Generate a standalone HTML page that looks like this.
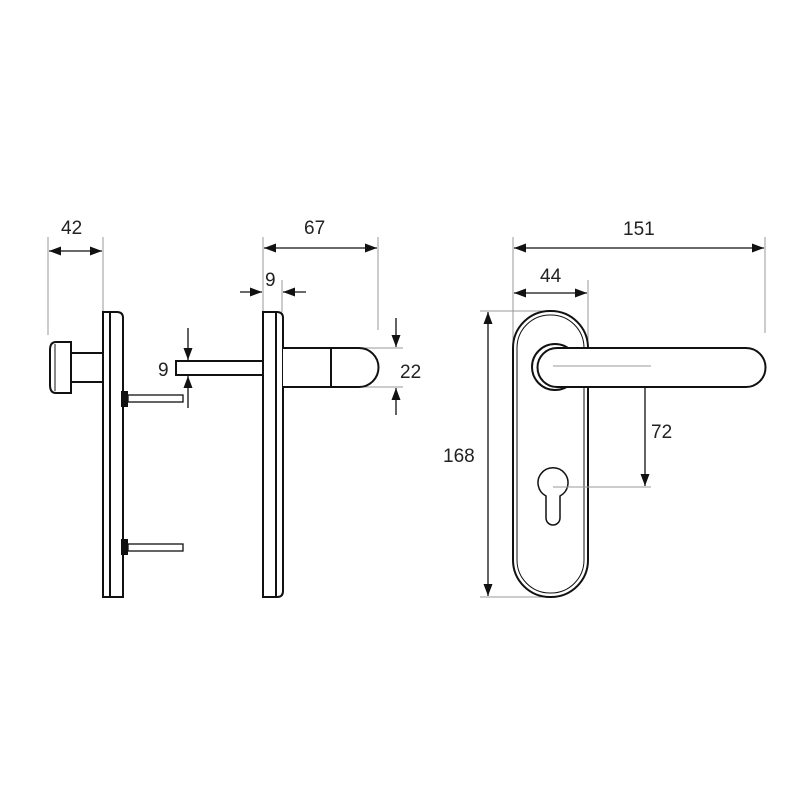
<!DOCTYPE html>
<html><head><style>html,body{margin:0;padding:0;background:#fff}svg{display:block}</style></head><body>
<svg width="800" height="800" viewBox="0 0 800 800" xmlns="http://www.w3.org/2000/svg" font-family="Liberation Sans, sans-serif">
<defs>
<marker id="a" viewBox="0 0 12 10" refX="12" refY="5" markerWidth="13" markerHeight="10" markerUnits="userSpaceOnUse" orient="auto-start-reverse"><path d="M0,0.5 L12,5 L0,9.5 Z" fill="#111"/></marker>
</defs>
<g fill="none" stroke="#999" stroke-width="1">
<line x1="48" y1="237" x2="48" y2="335"/>
<line x1="103" y1="237" x2="103" y2="312"/>
<line x1="263" y1="237" x2="263" y2="312"/>
<line x1="378" y1="237" x2="378" y2="330"/>
<line x1="282" y1="280" x2="282" y2="312"/>
<line x1="176" y1="361" x2="196" y2="361"/>
<line x1="176" y1="375" x2="196" y2="375"/>
<line x1="340" y1="348" x2="403" y2="348"/>
<line x1="340" y1="387" x2="403" y2="387"/>
<line x1="513" y1="237" x2="513" y2="345"/>
<line x1="588" y1="280" x2="588" y2="345"/>
<line x1="765" y1="237" x2="765" y2="333"/>
<line x1="480" y1="311" x2="545" y2="311"/>
<line x1="480" y1="597" x2="545" y2="597"/>
</g>
<g stroke="#111" stroke-width="1.3" fill="none">
<line x1="49" y1="251" x2="102" y2="251" marker-start="url(#a)" marker-end="url(#a)"/>
<line x1="264" y1="248" x2="377" y2="248" marker-start="url(#a)" marker-end="url(#a)"/>
<line x1="240" y1="292" x2="262" y2="292" marker-end="url(#a)"/>
<line x1="306" y1="292" x2="283" y2="292" marker-end="url(#a)"/>
<line x1="188" y1="328" x2="188" y2="360" marker-end="url(#a)"/>
<line x1="188" y1="408" x2="188" y2="376" marker-end="url(#a)"/>
<line x1="396" y1="318" x2="396" y2="347" marker-end="url(#a)"/>
<line x1="396" y1="415" x2="396" y2="388" marker-end="url(#a)"/>
<line x1="514" y1="248" x2="764" y2="248" marker-start="url(#a)" marker-end="url(#a)"/>
<line x1="514" y1="293" x2="587" y2="293" marker-start="url(#a)" marker-end="url(#a)"/>
<line x1="488" y1="312" x2="488" y2="596" marker-start="url(#a)" marker-end="url(#a)"/>
<line x1="645" y1="367" x2="645" y2="486" marker-start="url(#a)" marker-end="url(#a)"/>
</g>
<g font-size="19" fill="#222">
<text x="61" y="234">42</text>
<text x="304" y="234">67</text>
<text x="265" y="286">9</text>
<text x="158" y="376">9</text>
<text x="400" y="378">22</text>
<text x="623" y="235">151</text>
<text x="540" y="282">44</text>
<text x="443" y="462">168</text>
<text x="651" y="438">72</text>
</g>
<g stroke="#111" stroke-width="2" fill="#fff">
<path d="M103,597 L103,312 L117,312 Q123,312 123,318 L123,597 Z"/>
<line x1="110" y1="313" x2="110" y2="596"/>
<rect x="71" y="353" width="32" height="29"/>
<path d="M71,342 L56,342 Q50,342 50,350 L50,385 Q50,393 56,393 L71,393 Z"/>
<line x1="55" y1="344" x2="55" y2="391" stroke-width="1"/>
<rect x="122" y="392" width="5" height="14" fill="#111"/>
<rect x="128" y="395" width="55" height="7" stroke-width="1.3"/>
<rect x="122" y="540" width="5" height="14" fill="#111"/>
<rect x="128" y="544" width="55" height="7" stroke-width="1.3"/>
<path d="M263,597 L263,312 L277,312 Q283,312 283,318 L283,591 Q283,597 277,597 Z"/>
<line x1="276" y1="313" x2="276" y2="596"/>
<rect x="176" y="361" width="87" height="14"/>
<path d="M283,348 L359,348 A19.5,19.5 0 0 1 359,387 L283,387"/>
<line x1="331" y1="348" x2="331" y2="387"/>
<rect x="513" y="311" width="75" height="286" rx="37" ry="37"/>
<rect x="517" y="315" width="67" height="278" rx="33" ry="33" stroke-width="1"/>
<circle cx="555" cy="367" r="23"/>
<path d="M557,348 L746,348 A19.5,19.5 0 0 1 746,387 L557,387 A19.5,19.5 0 0 1 557,348 Z"/>
<path d="M546,496 A15,15 0 1 1 560,496 L560,518 A7,7 0 0 1 546,518 Z" stroke-width="1.5"/>
</g>
<line x1="553" y1="366" x2="651" y2="366" stroke="#999" stroke-width="1"/>
<line x1="553" y1="487" x2="651" y2="487" stroke="#999" stroke-width="1"/>
</svg>
</body></html>
